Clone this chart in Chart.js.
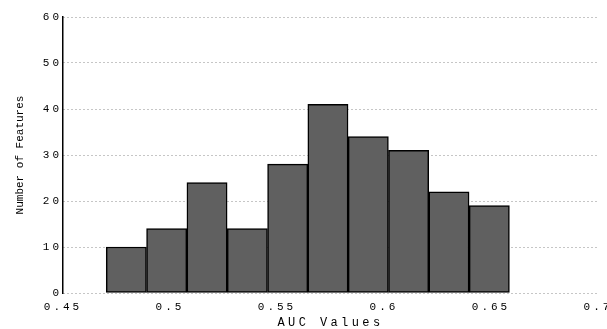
<!DOCTYPE html>
<html>
<head>
<meta charset="utf-8">
<script src="https://cdn.jsdelivr.net/npm/chart.js@4"></script>
<style>
  html, body { margin: 0; padding: 0; overflow: hidden; background: #fff; }
  #wrap { position: relative; width: 640px; height: 329px; }
</style>
</head>
<body>
<div id="wrap"><canvas id="chart"></canvas></div>
<script>
// histogram bin edges (AUC) and counts per bin
const binEdges = [0.4702, 0.4890, 0.5079, 0.5267, 0.5456, 0.5644, 0.5832, 0.6021, 0.6209, 0.6398, 0.6586];
const counts = [10, 14, 24, 14, 28, 41, 34, 31, 22, 19];
const xTickLabels = ['0.45', '0.5', '0.55', '0.6', '0.65', '0.7'];
const yTickLabels = ['0', '10', '20', '30', '40', '50', '60'];

const points = counts.map((c, i) => ({ x: (binEdges[i] + binEdges[i + 1]) / 2, y: c }));

const mono = 'Liberation Mono, Courier New, monospace';

// canvas letterSpacing per text block (ticks are spaced wide, y title is not)
const spacing = {
  id: 'spacing',
  beforeDraw(chart) {
    chart.ctx.letterSpacing = '3px';
    const titleSpacing = { x: '3.4px', y: '0px' };
    Object.keys(titleSpacing).forEach(id => {
      const s = chart.scales[id];
      if (s._patched) return;
      const orig = s.drawTitle;
      s.drawTitle = function () {
        const prev = this.ctx.letterSpacing;
        this.ctx.letterSpacing = titleSpacing[id];
        orig.call(this);
        this.ctx.letterSpacing = prev;
      };
      s._patched = true;
    });
  }
};

new Chart(document.getElementById('chart'), {
  type: 'bar',
  data: {
    datasets: [{
      data: points,
      backgroundColor: '#606060',
      borderColor: '#000',
      borderWidth: 1.5,
      borderSkipped: false,
      barPercentage: 1,
      categoryPercentage: 1
    }]
  },
  options: {
    responsive: true,
    maintainAspectRatio: false,
    animation: false,
    layout: { padding: { left: 0, top: 17, right: 42, bottom: 0 } },
    plugins: { legend: { display: false }, tooltip: { enabled: false } },
    scales: {
      x: {
        type: 'linear',
        min: 0.45,
        max: 0.7,
        offset: false,
        grid: { display: false, offset: false },
        border: { display: false },
        ticks: {
          stepSize: 0.05,
          maxRotation: 0,
          padding: 0.5,
          color: '#000',
          font: { family: mono, size: 11, lineHeight: 1 },
          callback: (v, i) => xTickLabels[i]
        },
        title: {
          display: true,
          text: 'AUC Values',
          color: '#000',
          padding: { top: 0, bottom: 0 },
          font: { family: mono, size: 12, lineHeight: 1 }
        },
        afterFit: s => { s.height = 36; }
      },
      y: {
        min: 0,
        max: 60,
        grid: {
          color: '#8c8c8c',
          lineWidth: 1,
          drawTicks: false
        },
        // in v4 border.dash styles the grid lines; the axis line itself stays solid
        border: { display: true, color: '#000', width: 1.5, dash: [1, 3] },
        ticks: {
          stepSize: 10,
          padding: 1,
          color: '#000',
          font: { family: mono, size: 11, lineHeight: 1 },
          callback: (v, i) => yTickLabels[i]
        },
        title: {
          display: true,
          text: 'Number of Features',
          color: '#000',
          padding: { top: 14.5, bottom: 0 },
          font: { family: mono, size: 11, lineHeight: 1 }
        },
        afterFit: s => { s.width = 63; }
      }
    }
  },
  plugins: [spacing]
});
</script>
</body>
</html>
